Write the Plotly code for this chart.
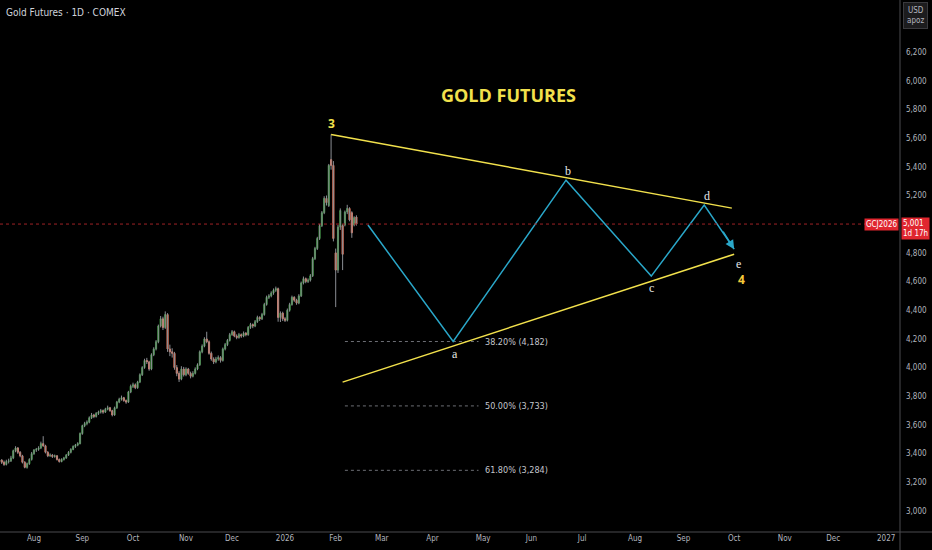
import pandas as pd
import plotly.graph_objects as go

# daily candles, one row per trading day: [open, high, low, close]
jul_ohlc = [
    [3350, 3375, 3335, 3355], [3355, 3362, 3328, 3340], [3340, 3352, 3315, 3325],
    [3325, 3358, 3318, 3345], [3345, 3365, 3332, 3350], [3350, 3385, 3342, 3370],
    [3370, 3428, 3362, 3420], [3420, 3452, 3410, 3440], [3440, 3446, 3398, 3410],
    [3410, 3418, 3375, 3385], [3385, 3392, 3332, 3340], [3340, 3348, 3298, 3305],
    [3305, 3338, 3296, 3330], [3330, 3368, 3322, 3360], [3360, 3412, 3352, 3400],
]
aug_ohlc = [
    [3400, 3432, 3392, 3425], [3425, 3440, 3412, 3430], [3430, 3452, 3420, 3440],
    [3440, 3484, 3432, 3470], [3470, 3522, 3448, 3455], [3455, 3462, 3402, 3410],
    [3410, 3418, 3376, 3385], [3385, 3402, 3378, 3390], [3390, 3398, 3370, 3380],
    [3380, 3394, 3372, 3385], [3385, 3390, 3352, 3360], [3360, 3366, 3338, 3345],
    [3345, 3368, 3340, 3360], [3360, 3378, 3352, 3370], [3370, 3398, 3364, 3390],
    [3390, 3418, 3384, 3410], [3410, 3438, 3402, 3430], [3430, 3458, 3424, 3450],
    [3450, 3468, 3440, 3460], [3460, 3480, 3452, 3470], [3470, 3548, 3465, 3540],
]
sep_ohlc = [
    [3540, 3602, 3532, 3595], [3595, 3622, 3585, 3610], [3610, 3632, 3598, 3620],
    [3620, 3660, 3612, 3650], [3650, 3684, 3642, 3670], [3670, 3678, 3648, 3660],
    [3660, 3690, 3652, 3680], [3680, 3700, 3670, 3690], [3690, 3712, 3680, 3700],
    [3700, 3708, 3678, 3690], [3690, 3720, 3684, 3710], [3710, 3735, 3702, 3720],
    [3720, 3726, 3692, 3700], [3700, 3706, 3660, 3670], [3670, 3728, 3664, 3720],
    [3720, 3768, 3712, 3760], [3760, 3790, 3752, 3780], [3780, 3805, 3770, 3790],
    [3790, 3796, 3762, 3770], [3770, 3778, 3748, 3760], [3760, 3838, 3754, 3830],
    [3830, 3882, 3822, 3870],
]
oct_ohlc = [
    [3870, 3895, 3858, 3880], [3880, 3890, 3850, 3860], [3860, 3908, 3852, 3900],
    [3900, 3960, 3892, 3950], [3950, 4010, 3942, 4000], [4000, 4062, 3992, 4050],
    [4050, 4068, 4025, 4040], [4040, 4048, 3978, 3990], [3990, 4100, 3982, 4090],
    [4090, 4142, 4080, 4130], [4130, 4192, 4120, 4180], [4180, 4300, 4170, 4290],
    [4290, 4360, 4280, 4340], [4340, 4355, 4262, 4280], [4280, 4392, 4270, 4370],
    [4370, 4380, 4110, 4130], [4130, 4160, 4080, 4110], [4110, 4135, 4070, 4100],
    [4100, 4110, 3985, 4000], [4000, 4018, 3940, 3960], [3960, 3975, 3900, 3920],
    [3920, 4010, 3912, 3990], [3990, 4005, 3938, 3950],
]
nov_ohlc = [
    [3950, 4002, 3940, 3990], [3990, 3998, 3950, 3960], [3960, 3972, 3925, 3940],
    [3940, 3975, 3932, 3960], [3960, 4002, 3952, 3990], [3990, 4030, 3982, 4020],
    [4020, 4120, 4012, 4110], [4110, 4162, 4100, 4150], [4150, 4212, 4142, 4200],
    [4200, 4250, 4170, 4180], [4180, 4190, 4090, 4100], [4100, 4112, 4048, 4060],
    [4060, 4072, 4025, 4040], [4040, 4075, 4030, 4060], [4060, 4085, 4048, 4070],
    [4070, 4080, 4035, 4050], [4050, 4140, 4042, 4130], [4130, 4172, 4120, 4160],
    [4160, 4200, 4150, 4190], [4190, 4242, 4182, 4230],
]
dec_ohlc = [
    [4230, 4262, 4222, 4250], [4250, 4258, 4212, 4220], [4220, 4232, 4198, 4210],
    [4210, 4242, 4202, 4230], [4230, 4238, 4208, 4220], [4220, 4252, 4212, 4240],
    [4240, 4248, 4218, 4230], [4230, 4290, 4222, 4280], [4280, 4312, 4270, 4300],
    [4300, 4308, 4275, 4290], [4290, 4332, 4282, 4320], [4320, 4362, 4312, 4350],
    [4350, 4358, 4325, 4340], [4340, 4382, 4332, 4370], [4370, 4452, 4362, 4440],
    [4440, 4502, 4432, 4490], [4490, 4512, 4478, 4500], [4500, 4532, 4490, 4520],
    [4520, 4552, 4508, 4540], [4540, 4565, 4528, 4550], [4550, 4558, 4320, 4350],
    [4350, 4392, 4318, 4380], [4380, 4390, 4325, 4340],
]
jan_ohlc = [
    [4340, 4352, 4318, 4330], [4330, 4412, 4322, 4400], [4400, 4452, 4390, 4440],
    [4440, 4502, 4432, 4490], [4490, 4498, 4458, 4470], [4470, 4480, 4438, 4450],
    [4450, 4512, 4442, 4500], [4500, 4600, 4492, 4590], [4590, 4635, 4580, 4620],
    [4620, 4628, 4588, 4600], [4600, 4622, 4590, 4610], [4610, 4652, 4600, 4640],
    [4640, 4772, 4632, 4760], [4760, 4842, 4750, 4830], [4830, 4912, 4820, 4900],
    [4900, 5002, 4890, 4990], [4990, 5092, 4980, 5080], [5080, 5195, 5070, 5180],
    [5180, 5200, 5130, 5150], [5130, 5420, 5120, 5410], [5450, 5626, 5380, 5410],
    [5410, 5440, 4880, 4900],
]
feb_ohlc = [
    [4800, 4830, 4422, 4680], [4680, 4995, 4660, 4980], [4980, 5110, 4960, 5095],
    [4990, 5000, 4680, 4790], [4995, 5095, 4985, 5085], [5085, 5135, 5070, 5110],
    [5110, 5118, 5020, 5030], [5080, 5090, 4905, 4940], [4995, 5055, 4985, 5045],
    [5050, 5062, 4990, 5001],
]

last_price = 5001

# wave drawing
upper_dates = ["2026-01-29", "2026-09-30"]
upper_prices = [5626, 5112]
lower_dates = ["2026-02-05", "2026-10-01"]
lower_prices = [3899, 4791]
wave_dates = ["2026-02-20", "2026-04-14", "2026-06-22", "2026-08-12", "2026-09-14", "2026-10-01"]
wave_prices = [4994, 4182, 5307, 4638, 5133, 4826]
wave_labels = ["", "a", "b", "c", "d", "e"]
label_shift = [(0, 0), (2, -12), (2, 9), (0, -12), (3, 9), (4, -15)]

# fib retracements
fib_levels = [4182, 3733, 3284]
fib_text = ["38.20% (4,182)", "50.00% (3,733)", "61.80% (3,284)"]
fib_dates = ["2026-02-06", "2026-04-29"]

# 5,000 sits under the last-price tag, so it is not shown
price_ticks = [3000, 3200, 3400, 3600, 3800, 4000, 4200, 4400, 4600, 4800,
               5200, 5400, 5600, 5800, 6000, 6200]
tick_dates = ["2025-08-01", "2025-09-01", "2025-10-01", "2025-11-03", "2025-12-01",
              "2026-01-01", "2026-02-02", "2026-03-02", "2026-04-01", "2026-05-01",
              "2026-06-01", "2026-07-01", "2026-08-03", "2026-09-01", "2026-10-01",
              "2026-11-02", "2026-12-01", "2027-01-01"]
tick_text = ["Aug", "Sep", "Oct", "Nov", "Dec", "2026", "Feb", "Mar", "Apr", "May",
             "Jun", "Jul", "Aug", "Sep", "Oct", "Nov", "Dec", "2027"]

rows = jul_ohlc + aug_ohlc + sep_ohlc + oct_ohlc + nov_ohlc + dec_ohlc + jan_ohlc + feb_ohlc
dates = pd.bdate_range("2025-07-11", "2026-02-13")
df = pd.DataFrame(rows, columns=["open", "high", "low", "close"], index=dates)

GREEN = "#388e3c"
RED = "#e8795f"
WICK = "#8a8d93"
YELLOW = "#f2e14c"
CYAN = "#2aa7c9"
AXIS_FONT = dict(family="Liberation Sans Narrow, DejaVu Sans Condensed, Roboto", size=8, color="#b2b5be")
XR = 900 / 932

fig = go.Figure()

# wicks in gray, bodies on top
fig.add_trace(go.Ohlc(
    x=df.index, open=df.open, high=df.high, low=df.low, close=df.close,
    tickwidth=0, increasing_line_color=WICK, decreasing_line_color=WICK,
    line_width=1, hoverinfo="skip", showlegend=False,
))
fig.add_trace(go.Candlestick(
    x=df.index, open=df.open, close=df.close,
    high=df[["open", "close"]].max(axis=1), low=df[["open", "close"]].min(axis=1),
    increasing=dict(line=dict(color=GREEN, width=1), fillcolor=GREEN),
    decreasing=dict(line=dict(color=RED, width=1), fillcolor=RED),
    whiskerwidth=0, showlegend=False,
))

# fib levels
for lvl, txt in zip(fib_levels, fib_text):
    fig.add_trace(go.Scatter(x=fib_dates, y=[lvl, lvl], mode="lines",
                             line=dict(color="#6d6f75", width=1, dash="dot"),
                             hoverinfo="skip", showlegend=False))
    fig.add_annotation(x=fib_dates[1], y=lvl, text=txt, showarrow=False,
                       xanchor="left", xshift=4,
                       font=dict(AXIS_FONT, size=9, color="#c4c6cc"))

# triangle
fig.add_trace(go.Scatter(x=upper_dates, y=upper_prices, mode="lines",
                         line=dict(color=YELLOW, width=1.5), showlegend=False))
fig.add_trace(go.Scatter(x=lower_dates, y=lower_prices, mode="lines",
                         line=dict(color=YELLOW, width=1.5), showlegend=False))
fig.add_trace(go.Scatter(x=wave_dates, y=wave_prices, mode="lines",
                         line=dict(color=CYAN, width=1.5), showlegend=False))
fig.add_annotation(x=wave_dates[-1], y=wave_prices[-1], text="", showarrow=True,
                   ax=-12, ay=-19, arrowhead=2, arrowsize=1.2, arrowwidth=1.5,
                   arrowcolor=CYAN)

for d, p, lab, (dx, dy) in zip(wave_dates, wave_prices, wave_labels, label_shift):
    if lab:
        fig.add_annotation(x=d, y=p, text=lab, showarrow=False, xshift=dx, yshift=dy,
                           font=dict(family="Liberation Serif", size=12, color="#e6e6e6"))

fig.add_annotation(x=upper_dates[0], y=upper_prices[0], text="<b>3</b>", showarrow=False,
                   yshift=11, font=dict(family="Open Sans", size=12, color=YELLOW))
fig.add_annotation(x=wave_dates[-1], y=wave_prices[-1], text="<b>4</b>", showarrow=False,
                   xshift=7, yshift=-30, font=dict(family="Open Sans", size=12, color="#f5c93a"))

fig.add_annotation(x="2026-05-18", y=5900, text="<b>GOLD FUTURES</b>", showarrow=False,
                   font=dict(family="Open Sans", size=18, color=YELLOW))

# last price line and labels
fig.add_shape(type="line", xref="paper", x0=0, x1=XR, y0=last_price, y1=last_price,
              line=dict(color="#9e2226", width=1, dash="dot"))
fig.add_annotation(xref="paper", x=XR, y=last_price, text="GCJ2026", showarrow=False,
                   xanchor="right", xshift=-1, bgcolor="#e0262f", borderpad=1,
                   font=dict(AXIS_FONT, color="white"))
fig.add_annotation(xref="paper", x=XR, y=last_price, text="5,001<br>1d 17h", showarrow=False,
                   xanchor="left", xshift=1, yshift=-4, align="left", bgcolor="#e0262f",
                   borderpad=1, font=dict(AXIS_FONT, color="white"))

# header texts
fig.add_annotation(xref="paper", yref="paper", x=0, y=1, xanchor="left", yanchor="top",
                   xshift=4, yshift=-5, text="Gold Futures · 1D · COMEX", showarrow=False,
                   font=dict(family="Liberation Sans Narrow, DejaVu Sans Condensed, Roboto",
                             size=10, color="#d1d4dc"))
fig.add_annotation(xref="paper", yref="paper", x=XR, y=1, xanchor="left", yanchor="top",
                   xshift=3, yshift=-2, text="USD<br>apoz", showarrow=False,
                   bgcolor="#1c1c1e", bordercolor="#3a3a3e", borderwidth=1, borderpad=3,
                   font=AXIS_FONT)

# axis frame lines
fig.add_shape(type="line", xref="paper", yref="paper", x0=0, x1=1, y0=0, y1=0,
              line=dict(color="#4a4a4e", width=1))
fig.add_shape(type="line", xref="paper", yref="paper", x0=XR, x1=XR, y0=-18 / 532, y1=1,
              line=dict(color="#4a4a4e", width=1))

fig.update_layout(
    width=932, height=550,
    margin=dict(l=0, r=0, t=0, b=18),
    paper_bgcolor="#000000", plot_bgcolor="#000000",
    showlegend=False,
    xaxis=dict(
        domain=[0, XR], type="date",
        range=["2025-07-11 06:00", "2027-01-11"],
        rangebreaks=[dict(bounds=["sat", "mon"])],
        rangeslider=dict(visible=False),
        tickvals=tick_dates, ticktext=tick_text, tickfont=AXIS_FONT,
        showgrid=False, zeroline=False, ticks="", showline=False,
    ),
    yaxis=dict(
        side="right", range=[2854, 6563], tickvals=price_ticks,
        tickformat=",d", tickfont=AXIS_FONT, showgrid=False, zeroline=False,
        ticks="", ticklabelstandoff=5,
    ),
)

# drop the page's default body margin so the chart sits at the window's corner
fig.write_html("out.html", config={"displayModeBar": False},
               post_script="document.body.style.margin='0';"
               "document.body.style.background='#000';")
